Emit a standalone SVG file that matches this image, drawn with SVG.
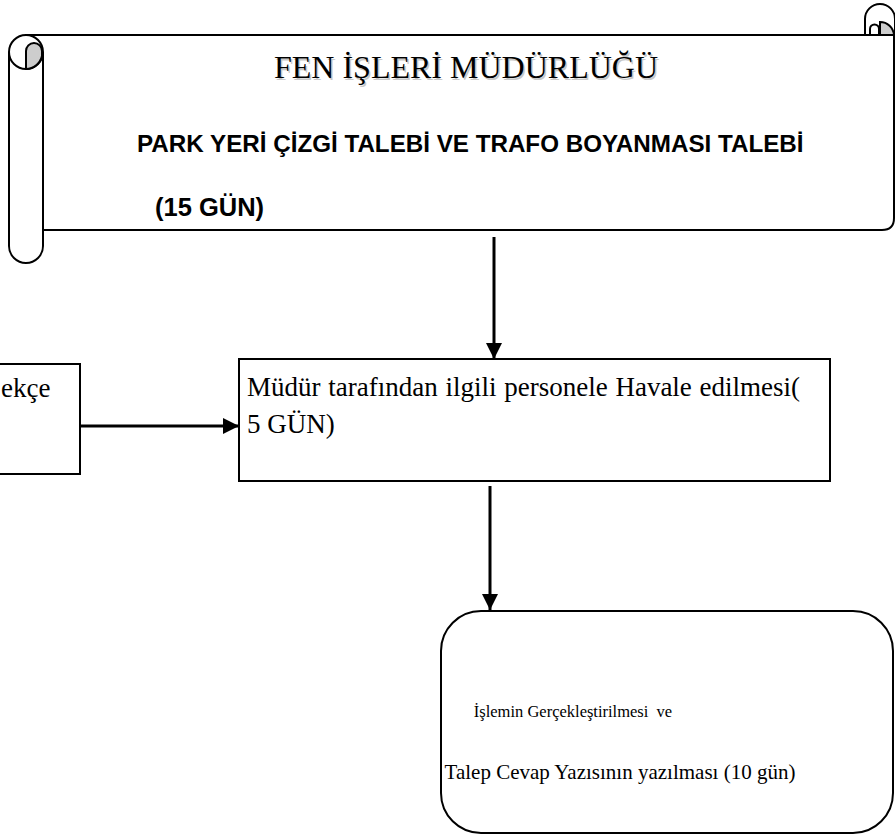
<svg xmlns="http://www.w3.org/2000/svg" width="895" height="836" viewBox="0 0 895 836">
<style>
.ln{fill:none;stroke:#000;stroke-width:2}
.bx{fill:#fff;stroke:#000;stroke-width:2}
.serif{font-family:"Liberation Serif","Times New Roman",serif;fill:#000}
.shadow{font-family:"Liberation Serif","Times New Roman",serif;fill:#c8c8c8}
.sans{font-family:"Liberation Sans",Arial,sans-serif;font-weight:bold;fill:#000}
.curl{fill:#cdcdcd;stroke:#000;stroke-width:2}
.conn{stroke:#000;stroke-width:3;fill:none}
</style>
<defs>
<marker id="ah" markerWidth="16" markerHeight="16" refX="16" refY="8" orient="auto" markerUnits="userSpaceOnUse" viewBox="0 0 16 16">
<path d="M0,0 L16,8 L0,16 z" fill="#000"/>
</marker>
</defs>
<g id="scroll">
<path class="bx" d="M26,35 L894,35 L894,218 Q894,230 882,230 L43,230 L43,52"/>
<path class="bx" d="M865,35 L865,19 A15,15 0 0 1 895,19 L895,35 Z"/>
<path class="ln" d="M870,35 L870,29 A4.5,4.5 0 0 1 879,29 L879,35"/>
<path class="curl" d="M880,35 L880,22 A14,14 0 0 1 894,35 Z"/>
<path class="bx" d="M43,52 A17,17 0 0 0 9,52 L9,246 A17,17 0 0 0 43,246 Z"/>
<path class="ln" d="M9,52 A17,17 0 0 0 43,52"/>
<path class="curl" d="M26,69 L26,51 A8,8 0 0 1 42,51 L42,56 A17,17 0 0 1 26,69 Z"/>
<text class="shadow" x="467.5" y="79.5" font-size="32" text-anchor="middle">FEN İŞLERİ MÜDÜRLÜĞÜ</text>
<text class="serif" x="466" y="78" font-size="32" text-anchor="middle">FEN İŞLERİ MÜDÜRLÜĞÜ</text>
<text class="sans" x="137" y="152" font-size="24.2">PARK YERİ ÇİZGİ TALEBİ VE TRAFO BOYANMASI TALEBİ</text>
<text class="sans" x="155" y="216" font-size="25.5">(15 GÜN)</text>
</g>
<g id="dilekce">
<rect class="bx" x="-10" y="364" width="90" height="110"/>
<text class="serif" x="1" y="397" font-size="27">ekçe</text>
</g>
<g id="havale">
<rect class="bx" x="239" y="359" width="591" height="122"/>
<text class="serif" x="247" y="396" font-size="27" word-spacing="1">Müdür tarafından ilgili personele Havale edilmesi(</text>
<text class="serif" x="247" y="433" font-size="27">5 GÜN)</text>
</g>
<g id="islem">
<rect class="bx" x="441" y="611" width="452" height="222" rx="40" ry="40"/>
<text class="serif" x="573" y="717" font-size="16.5" text-anchor="middle" xml:space="preserve">İşlemin Gerçekleştirilmesi  ve</text>
<text class="serif" x="620" y="779" font-size="21" text-anchor="middle">Talep Cevap Yazısının yazılması (10 gün)</text>
</g>
<g id="connectors">
<line class="conn" x1="494" y1="237" x2="494" y2="359" marker-end="url(#ah)"/>
<line class="conn" x1="80" y1="426" x2="239" y2="426" marker-end="url(#ah)"/>
<line class="conn" x1="490" y1="486" x2="490" y2="610" marker-end="url(#ah)"/>
</g>
</svg>
